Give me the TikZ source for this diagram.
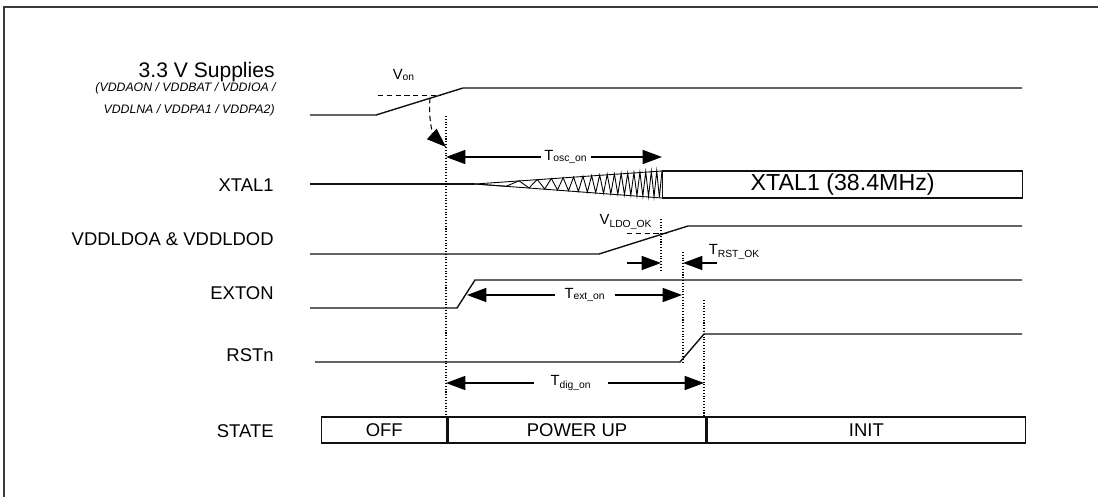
\documentclass[tikz,border=0pt]{standalone}
\usepackage{fontspec}
\setmainfont{Liberation Sans}
\usetikzlibrary{positioning, arrows.meta}
\definecolor{marco}{HTML}{3A3A3A}
\definecolor{trazo}{HTML}{111111}

\begin{document}
\begin{tikzpicture}[x=0.02cm, y=-0.02cm,
	signal/.style={draw=trazo, line width=0.8pt},
	marca/.style={densely dotted, line width=0.6pt},
	cota/.style={line width=0.7pt, -{Triangle[length=11pt, width=8pt]}},
	rotulo/.style={anchor=east, inner sep=0pt, font=\fontsize{10.5}{12}\selectfont},
	tiempo/.style={font=\fontsize{8.4}{10}\selectfont, inner sep=2pt},
	estado/.style={draw=trazo, line width=0.8pt, minimum height=0.52cm, inner sep=0pt,
	               font=\fontsize{10.5}{12}\selectfont}]
	\useasboundingbox (0,0) rectangle (1098,497);
	\draw[marco, line width=1pt] (4,497) -- (4,7) -- (1098,7);

	% nombres de las senales
	\node[rotulo, font=\fontsize{12}{14}\selectfont] (sup) at (275,72) {3.3 V Supplies};
	\node[rotulo, font=\fontsize{7}{8}\selectfont\itshape] (supa) at (276,88) {(VDDAON / VDDBAT / VDDIOA /};
	\node[rotulo, font=\fontsize{7}{8}\selectfont\itshape] (supb) at (275,110) {VDDLNA / VDDPA1 / VDDPA2)};
	\node[rotulo] (xtal) at (274,185) {XTAL1};
	\node[rotulo] (ldo) at (274,239) {VDDLDOA \& VDDLDOD};
	\node[rotulo] (exton) at (274,293) {EXTON};
	\node[rotulo] (rstn) at (274,355) {RSTn};
	\node[rotulo] (state) at (274,431) {STATE};

	% 3.3 V
	\draw[signal] (310,115) -- (376,115) -- (463,88) -- (1022,88);
	\draw[densely dashed, line width=0.5pt] (378,95) -- (440,95);
	\node[tiempo] (von) at (404,75) {V\textsubscript{on}};
	\coordinate (von0) at (430,98);
	\coordinate (arr0) at (446,147);
	\draw[densely dashed, line width=0.6pt, -{Triangle[length=11pt, width=8pt]}]
		(von0) .. controls (428,122) and (434,136) .. (arr0);

	% XTAL1
	\draw[signal] (310,184) -- (475,184);
	\draw[line width=0.5pt] (475,184) -- (662,171) (475,184) -- (662,198);
	\draw[line width=0.5pt] (475,184)
		\foreach \i in {1,...,36}{ -- ({475+187*sqrt(\i/36)},{184+(2*mod(\i,2)-1)*13.5*sqrt(\i/36)}) };
	\node[draw=trazo, line width=0.8pt, minimum width=7.2cm, minimum height=0.54cm, inner sep=0pt,
	      anchor=west, font=\fontsize{13.2}{15}\selectfont] (osc) at (662,184.5) {XTAL1 (38.4MHz)};
	\node[tiempo] (tosc) at (566,157) {T\textsubscript{osc\_on}};
	\coordinate (osc0) at (446,157);
	\coordinate (osc1) at (662,157);
	\draw[cota] (tosc.west) -- (osc0);
	\draw[cota] (tosc.east) -- (osc1);

	% VDDLDOA & VDDLDOD
	\draw[signal] (310,254) -- (599,254) -- (688,226) -- (1022,226);
	\draw[densely dashed, line width=0.5pt] (627,233) -- (670,233);
	\node[tiempo] (vldo) at (626,222) {V\textsubscript{LDO\_OK}};
	\node[tiempo, anchor=west] (trst) at (705,252) {T\textsubscript{RST\_OK}};
	\coordinate (rst0) at (661,263);
	\coordinate (rst1) at (683,263);
	\coordinate (rst0a) at (627,263);
	\coordinate (rst1a) at (717,263);
	\draw[cota] (rst0a) -- (rst0);
	\draw[cota] (rst1a) -- (rst1);

	% EXTON
	\draw[signal] (310,308) -- (457,308) -- (475,280) -- (1022,280);
	\node[tiempo, inner xsep=5pt] (text) at (585,295) {T\textsubscript{ext\_on}};
	\coordinate (ext0) at (467,295);
	\coordinate (ext1) at (682,295);
	\draw[cota] (text.west) -- (ext0);
	\draw[cota] (text.east) -- (ext1);

	% RSTn
	\draw[signal] (315,362) -- (680,362) -- (704,334) -- (1022,334);
	\node[tiempo, inner xsep=9pt] (tdig) at (571,383) {T\textsubscript{dig\_on}};
	\coordinate (dig0) at (446,383);
	\coordinate (dig1) at (704,383);
	\draw[cota] (tdig.west) -- (dig0);
	\draw[cota] (tdig.east) -- (dig1);

	% lineas de referencia
	\draw[marca] (446,116) -- (446,417);
	\draw[marca] (661,219) -- (661,270);
	\draw[marca] (683,252) -- (683,362);
	\draw[marca] (704,300) -- (704,417);

	% STATE
	\node[estado, minimum width=2.5cm, anchor=west] (off) at (321,430) {OFF};
	\node[estado, minimum width=5.16cm, right=0pt of off] (pwr) {POWER UP};
	\node[estado, minimum width=6.36cm, right=0pt of pwr] (init) {INIT};
\end{tikzpicture}
\end{document}
